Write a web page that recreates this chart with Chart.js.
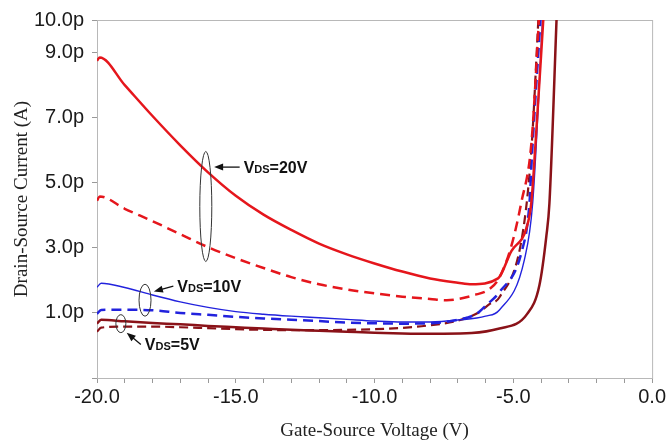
<!DOCTYPE html>
<html>
<head>
<meta charset="utf-8">
<script src="https://cdn.jsdelivr.net/npm/chart.js@4.4.1/dist/chart.umd.min.js"></script>
<style>
  html, body { margin: 0; padding: 0; background: #fff; }
  #wrap { width: 668px; height: 446px; }
</style>
</head>
<body>
<div id="wrap"><canvas id="myChart" width="668" height="446"></canvas></div>
<script>
// gate-source voltage (V) / drain-source current (pA)
const vgs20s = [-20, -19.9, -19, -18, -17, -16, -15, -14, -13, -12, -11, -10, -9, -8, -7, -6.5, -5.55, -5.07, -4.53, -4.35, -4.2, -3.9];
const ids20s = [8.75, 8.85, 8.0, 7.05, 6.15, 5.32, 4.6, 4.02, 3.55, 3.13, 2.8, 2.52, 2.27, 2.06, 1.93, 1.88, 2.06, 2.9, 3.6, 4.4, 6.2, 10.3];

const vgs20d = [-20, -19.9, -19, -18, -17, -16, -15, -14, -13, -12, -11, -10, -9, -8, -7.4, -6.4, -5.86, -5.5, -5.07, -4.71, -4.35, -4.05];
const ids20d = [4.45, 4.58, 4.2, 3.82, 3.42, 3.02, 2.68, 2.38, 2.1, 1.88, 1.72, 1.6, 1.5, 1.43, 1.39, 1.55, 1.73, 2.09, 3.06, 4.4, 6.2, 10.4];

const vgs10s = [-20, -19.85, -19, -18, -17, -16, -15, -14, -13, -12, -11, -10, -9, -8, -7, -6, -5.5, -4.6, -4.3, -3.93];
const ids10s = [1.79, 1.91, 1.78, 1.55, 1.34, 1.17, 1.04, 0.96, 0.9, 0.85, 0.8, 0.75, 0.72, 0.72, 0.78, 0.9, 1.09, 2.64, 4.4, 10.3];

const vgs10d = [-20, -19.85, -19, -18, -17, -16, -15, -14, -13, -12, -11, -10, -9, -8, -7, -6.33, -5.97, -5.5, -4.71, -4.42, -4.32, -4.0];
const ids10d = [0.97, 1.09, 1.1, 1.08, 1.0, 0.94, 0.88, 0.83, 0.79, 0.75, 0.7, 0.68, 0.67, 0.68, 0.79, 0.97, 1.24, 1.64, 2.85, 4.36, 5.97, 10.3];

const vgs5s = [-20, -19.85, -19, -18, -17, -16, -15, -14, -13, -12, -11, -10, -9, -8, -7.5, -5.5, -4.5, -4.06, -3.81, -3.7, -3.43];
const ids5s = [0.67, 0.79, 0.74, 0.69, 0.65, 0.6, 0.56, 0.52, 0.48, 0.45, 0.42, 0.39, 0.37, 0.36, 0.36, 0.52, 0.97, 1.85, 3.36, 4.36, 10.3];

const vgs5d = [-20, -19.85, -19, -18, -17, -16, -15, -14, -13, -12, -11, -10, -9, -8, -7, -6.22, -5.86, -5.5, -4.68, -4.35, -4.08];
const ids5d = [0.42, 0.55, 0.58, 0.58, 0.56, 0.53, 0.5, 0.48, 0.47, 0.47, 0.48, 0.5, 0.54, 0.62, 0.76, 1.03, 1.27, 1.48, 3.36, 6.0, 10.3];

const yTicks = [-1, 1, 3, 5, 7, 9, 10];

// labels with ellipse + arrow, in data units
const notes = [
  {label: '20V', cx: -16.08, cy: 4.27, rx: 6, ry: 55, ax: -14.86, ay: 5.48, bx: -15.78, by: 5.48},
  {label: '10V', cx: -18.27, cy: 1.39, rx: 6, ry: 16, ax: -17.25, ay: 1.82, bx: -17.95, by: 1.66},
  {label: '5V',  cx: -19.14, cy: 0.67, rx: 5, ry: 9,  ax: -18.42, ay: 0.03, bx: -18.93, by: 0.39}
];

function pts(xs, ys) {
  return xs.map((x, i) => ({x: x, y: ys[i]}));
}

function line(xs, ys, color, width, dash) {
  return {
    data: pts(xs, ys),
    borderColor: color,
    borderWidth: width,
    borderDash: dash,
    pointRadius: 0,
    fill: false,
    cubicInterpolationMode: 'monotone'
  };
}

const RED = '#e5161c', BLUE = '#2222dd', MAROON = '#8a1218';

const notePlugin = {
  id: 'notes',
  beforeDatasetsDraw(chart) {
    const ctx = chart.ctx, a = chart.chartArea;
    ctx.save();
    ctx.strokeStyle = '#b8b8b8';
    ctx.lineWidth = 1;
    ctx.strokeRect(a.left + 0.5, a.top + 0.5, a.right - a.left, a.bottom - a.top);
    ctx.restore();
  },
  afterDatasetsDraw(chart) {
    const ctx = chart.ctx, sx = chart.scales.x, sy = chart.scales.y;
    ctx.save();
    notes.forEach(n => {
      const cx = sx.getPixelForValue(n.cx), cy = sy.getPixelForValue(n.cy);
      ctx.strokeStyle = '#333';
      ctx.lineWidth = 1;
      ctx.beginPath();
      ctx.ellipse(cx, cy, n.rx, n.ry, 0, 0, Math.PI * 2);
      ctx.stroke();

      const x1 = sx.getPixelForValue(n.ax), y1 = sy.getPixelForValue(n.ay);
      const x2 = sx.getPixelForValue(n.bx), y2 = sy.getPixelForValue(n.by);
      const ang = Math.atan2(y2 - y1, x2 - x1);
      ctx.strokeStyle = '#111';
      ctx.lineWidth = 1.3;
      ctx.beginPath();
      ctx.moveTo(x1, y1);
      ctx.lineTo(x2 - 6 * Math.cos(ang), y2 - 6 * Math.sin(ang));
      ctx.stroke();
      ctx.fillStyle = '#111';
      ctx.beginPath();
      ctx.moveTo(x2, y2);
      ctx.lineTo(x2 - 9 * Math.cos(ang) + 3.5 * Math.sin(ang), y2 - 9 * Math.sin(ang) - 3.5 * Math.cos(ang));
      ctx.lineTo(x2 - 9 * Math.cos(ang) - 3.5 * Math.sin(ang), y2 - 9 * Math.sin(ang) + 3.5 * Math.cos(ang));
      ctx.closePath();
      ctx.fill();

      let tx = x1 + 4;
      const ty = y1 + 6;
      ctx.textBaseline = 'alphabetic';
      ctx.textAlign = 'left';
      ctx.font = 'bold 16px "Liberation Sans", Arial, sans-serif';
      ctx.fillText('V', tx, ty);
      tx += ctx.measureText('V').width;
      ctx.font = 'bold 11px "Liberation Sans", Arial, sans-serif';
      ctx.fillText('DS', tx, ty);
      tx += ctx.measureText('DS').width;
      ctx.font = 'bold 16px "Liberation Sans", Arial, sans-serif';
      ctx.fillText('=' + n.label, tx, ty);
    });
    ctx.restore();
  }
};

new Chart(document.getElementById('myChart'), {
  type: 'line',
  data: {
    datasets: [
      line(vgs20s, ids20s, RED, 2.5, []),
      line(vgs20d, ids20d, RED, 2.5, [10, 6]),
      line(vgs10s, ids10s, BLUE, 1.4, []),
      line(vgs10d, ids10d, BLUE, 2.5, [10, 6]),
      line(vgs5s, ids5s, MAROON, 2.5, []),
      line(vgs5d, ids5d, MAROON, 2.2, [9, 5])
    ]
  },
  options: {
    responsive: false,
    animation: false,
    layout: {padding: {top: 14, right: 15, left: 0, bottom: 0}},
    plugins: {legend: {display: false}, tooltip: {enabled: false}},
    scales: {
      x: {
        type: 'linear',
        min: -20,
        max: 0,
        afterFit(scale) { scale.height = 68; },
        grid: {drawOnChartArea: false, drawTicks: true, tickLength: 5, tickColor: '#999'},
        border: {color: '#b8b8b8'},
        ticks: {
          stepSize: 1,
          autoSkip: false,
          maxRotation: 0,
          padding: 2,
          color: '#1a1a1a',
          font: {family: '"Liberation Sans", Arial, sans-serif', size: 20},
          callback: v => (v % 5 === 0 ? v.toFixed(1) : '')
        },
        title: {
          display: true,
          text: 'Gate-Source Voltage (V)',
          color: '#222',
          font: {family: '"Liberation Serif", "Times New Roman", serif', size: 19},
          padding: {top: 0, bottom: 4}
        }
      },
      y: {
        min: -1,
        max: 10,
        afterFit(scale) { scale.width = 97; },
        afterBuildTicks(scale) { scale.ticks = yTicks.map(v => ({value: v})); },
        grid: {drawOnChartArea: false, drawTicks: true, tickLength: 5, tickColor: '#999'},
        border: {color: '#b8b8b8'},
        ticks: {
          padding: 8,
          color: '#1a1a1a',
          font: {family: '"Liberation Sans", Arial, sans-serif', size: 20},
          callback: v => (v === -1 ? '' : v.toFixed(1) + 'p')
        },
        title: {
          display: true,
          text: 'Drain-Source Current (A)',
          color: '#222',
          font: {family: '"Liberation Serif", "Times New Roman", serif', size: 19},
          padding: {top: 11, bottom: 0}
        }
      }
    }
  },
  plugins: [notePlugin]
});
</script>
</body>
</html>
